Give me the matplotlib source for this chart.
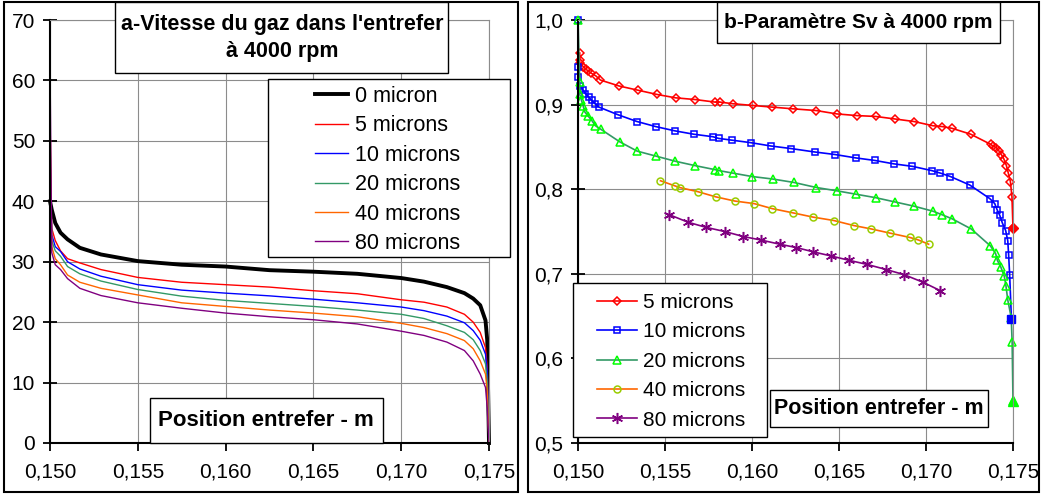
import matplotlib.pyplot as plt
from matplotlib.patches import Rectangle
from matplotlib.ticker import FuncFormatter

plt.rcParams['font.family'] = ['Liberation Sans', 'DejaVu Sans']

# --- a: gas velocity in the gap ---
pos_a = [0.150, 0.1501, 0.1503, 0.1506, 0.1510, 0.1517, 0.1529, 0.155, 0.1575, 0.160,
         0.1625, 0.165, 0.1675, 0.170, 0.1713, 0.1726, 0.1736, 0.1741, 0.1745, 0.1748,
         0.1749, 0.175]
v_0 = [40, 38.6, 36.4, 34.8, 33.7, 32.3, 31.2, 30.1, 29.5, 29.2, 28.6, 28.35, 28.0, 27.3,
       26.7, 25.8, 24.8, 23.9, 22.8, 20.3, 17.0, 0]
v_5 = [45, 35.5, 33.5, 31.8, 30.5, 29.8, 28.7, 27.4, 26.6, 26.2, 25.8, 25.2, 24.7, 23.7,
       23.3, 22.5, 21.3, 20.0, 18.3, 15.8, 12.5, 0]
v_10 = [48, 34.5, 32.5, 31.7, 30.0, 28.8, 27.6, 26.2, 25.3, 24.8, 24.35, 23.8, 23.2, 22.5,
        21.9, 21.0, 19.9, 18.6, 17.0, 14.7, 11.9, 0]
v_20 = [52, 33.5, 31.8, 30.9, 29.2, 28.0, 26.8, 25.4, 24.3, 23.6, 23.1, 22.6, 22.0, 21.3,
        20.6, 19.4, 18.3, 17.1, 15.3, 13.1, 10.3, 0]
v_40 = [55, 32.5, 30.5, 29.5, 27.8, 26.6, 25.6, 24.5, 23.2, 22.6, 22.0, 21.5, 20.9, 19.8,
        19.1, 18.1, 16.95, 15.6, 13.6, 11.4, 8.6, 0]
v_80 = [63, 31.5, 29.5, 28.7, 27.2, 25.6, 24.4, 23.2, 22.3, 21.5, 20.9, 20.4, 19.7, 18.5,
        17.8, 16.7, 15.3, 13.6, 11.4, 9.2, 5.8, 0]
labels_a = ['0 micron', '5 microns', '10 microns', '20 microns', '40 microns', '80 microns']

# --- b: Sv parameter ---
x_5 = [0.1501, 0.1501, 0.1501, 0.1503, 0.15044, 0.15057, 0.15077, 0.15102, 0.15129, 0.15236,
       0.15345, 0.15454, 0.15561, 0.15672, 0.15786, 0.15814, 0.15891, 0.16004, 0.16117, 0.16236,
       0.16368, 0.16487, 0.16604, 0.16711, 0.16822, 0.16931, 0.17040, 0.17094, 0.17149, 0.17257,
       0.17372, 0.17385, 0.17405, 0.17420, 0.17433, 0.17447, 0.17462, 0.17473, 0.17485, 0.17494,
       0.1750]
sv_5 = [0.961, 0.953, 0.949, 0.945, 0.942, 0.940, 0.937, 0.934, 0.929, 0.922,
        0.917, 0.912, 0.908, 0.906, 0.903, 0.903, 0.901, 0.899, 0.897, 0.895,
        0.893, 0.889, 0.887, 0.886, 0.883, 0.880, 0.875, 0.874, 0.872, 0.865,
        0.853, 0.851, 0.849, 0.845, 0.841, 0.836, 0.828, 0.819, 0.809, 0.791,
        0.754]
x_10 = [0.1500, 0.1500, 0.1500, 0.1501, 0.1503, 0.15042, 0.15061, 0.15079, 0.15098, 0.15121,
        0.15230, 0.15339, 0.15447, 0.15556, 0.15665, 0.15776, 0.15809, 0.15883, 0.15993, 0.16111,
        0.16226, 0.16360, 0.16477, 0.16596, 0.16705, 0.16814, 0.16922, 0.17033, 0.17083, 0.17140,
        0.17251, 0.17366, 0.17395, 0.17408, 0.17424, 0.17439, 0.17458, 0.17470, 0.17475, 0.17481,
        0.17491]
sv_10 = [1.0, 0.945, 0.933, 0.922, 0.917, 0.913, 0.909, 0.905, 0.901, 0.897,
         0.888, 0.880, 0.874, 0.869, 0.865, 0.862, 0.860, 0.858, 0.855, 0.851,
         0.848, 0.844, 0.841, 0.837, 0.834, 0.830, 0.827, 0.822, 0.819, 0.815,
         0.805, 0.789, 0.783, 0.776, 0.769, 0.760, 0.751, 0.739, 0.722, 0.698,
         0.646]
x_20 = [0.1500, 0.1501, 0.1501, 0.1502, 0.1503, 0.1504, 0.1506, 0.1508, 0.1510, 0.1513,
        0.1524, 0.1534, 0.1545, 0.1556, 0.1567, 0.1579, 0.1581, 0.1589, 0.1600, 0.1612,
        0.1624, 0.1637, 0.1649, 0.1660, 0.1671, 0.1682, 0.1693, 0.1704, 0.1709, 0.1715,
        0.1726, 0.1737, 0.1740, 0.1741, 0.1743, 0.1745, 0.1746, 0.1747, 0.1749, 0.17495,
        0.1750]
sv_20 = [1.0, 0.927, 0.912, 0.905, 0.898, 0.891, 0.886, 0.881, 0.875, 0.871,
         0.856, 0.845, 0.839, 0.833, 0.828, 0.823, 0.822, 0.819, 0.815, 0.812,
         0.808, 0.802, 0.798, 0.794, 0.790, 0.785, 0.780, 0.774, 0.770, 0.765,
         0.753, 0.733, 0.724, 0.716, 0.708, 0.697, 0.685, 0.669, 0.648, 0.619,
         0.550]
x_40 = [0.15474, 0.15556, 0.15584, 0.15690, 0.15791, 0.15901, 0.16012, 0.16117, 0.16236,
        0.16351, 0.16470, 0.16586, 0.16686, 0.16795, 0.16906, 0.16956, 0.17015]
sv_40 = [0.810, 0.804, 0.802, 0.797, 0.791, 0.786, 0.783, 0.777, 0.772,
         0.767, 0.763, 0.757, 0.753, 0.748, 0.743, 0.740, 0.735]
x_80 = [0.15523, 0.15632, 0.15734, 0.15843, 0.15951, 0.16050, 0.16159, 0.16255, 0.16351,
        0.16456, 0.16557, 0.16663, 0.16772, 0.16874, 0.16983, 0.17083]
sv_80 = [0.770, 0.761, 0.755, 0.750, 0.744, 0.740, 0.735, 0.731, 0.726,
         0.721, 0.716, 0.711, 0.705, 0.699, 0.690, 0.680]

W, H = 1042, 495
fig = plt.figure(figsize=(W / 100, H / 100), dpi=100)


def box(x0, y0, x1, y1, lw=1.0, fill=True):
    # rectangle given in pixel coords, y from top
    fig.add_artist(Rectangle((x0 / W, 1 - y1 / H), (x1 - x0) / W, (y1 - y0) / H,
                             transform=fig.transFigure, facecolor='white', fill=fill,
                             edgecolor='black', linewidth=lw, zorder=5))


def label(x, y, s, size, **kw):
    fig.text(x / W, 1 - y / H, s, ha='center', va='center', fontsize=size,
             fontweight='bold', zorder=6, **kw)


# panel frames
box(4, 2, 518, 492, lw=1.5, fill=False)
box(528, 2, 1039, 492, lw=1.5, fill=False)

ax1 = fig.add_axes([50 / W, 1 - 443 / H, 439 / W, 423 / H])
ax2 = fig.add_axes([578 / W, 1 - 443 / H, 435 / W, 423 / H])


def comma(fmt):
    return FuncFormatter(lambda v, p: (fmt % v).replace('.', ','))


for ax in (ax1, ax2):
    ax.set_xlim(0.150, 0.175)
    ax.set_xticks([0.150, 0.155, 0.160, 0.165, 0.170, 0.175])
    ax.xaxis.set_major_formatter(comma('%.3f'))
    ax.grid(color='#8c8c8c', linewidth=0.8)
    ax.set_axisbelow(True)
    for s in ('top', 'right'):
        ax.spines[s].set_color('#8c8c8c')
        ax.spines[s].set_linewidth(0.8)
    for s in ('left', 'bottom'):
        ax.spines[s].set_linewidth(1.5)
    ax.tick_params(axis='y', direction='inout', length=9.5, width=1.3, labelsize=15, pad=6)
    ax.tick_params(axis='x', direction='out', length=6, width=1.3, labelsize=15, pad=8)

# left panel
ax1.set_ylim(0, 70)
ax1.set_yticks(range(0, 71, 10))
colors_a = ['black', '#ff0000', '#0000ff', '#339966', '#ff6600', '#800080']
widths_a = [2.8, 1, 1, 1, 1, 1]
lines_a = []
for vals, c, lw, lab in zip([v_0, v_5, v_10, v_20, v_40, v_80], colors_a, widths_a, labels_a):
    lines_a += ax1.plot(pos_a, vals, color=c, linewidth=lw, label=lab, clip_on=False)

box(268, 79, 510, 257)
leg1 = fig.legend(handles=lines_a, loc='upper left', bbox_to_anchor=(315 / W, 1 - 86 / H),
                  bbox_transform=fig.transFigure, borderaxespad=0, borderpad=0,
                  frameon=False, fontsize=15.5, handlelength=1.55, handletextpad=0.33,
                  labelspacing=0.39)
leg1.set_zorder(7)

box(115, 2, 448, 73)
label(282, 38, "a-Vitesse du gaz dans l'entrefer\nà 4000 rpm", 15.5, linespacing=1.4)
box(150, 398, 383, 443)
label(266, 421, 'Position entrefer - m', 16)

# right panel
ax2.set_ylim(0.5, 1.0)
ax2.set_yticks([0.5, 0.6, 0.7, 0.8, 0.9, 1.0])
ax2.yaxis.set_major_formatter(comma('%.1f'))
series_b = [
    (x_5, sv_5, '#ff0000', '#ff0000', 'D', 4.5, '5 microns'),
    (x_10, sv_10, '#0000ff', '#0000ff', 's', 4.5, '10 microns'),
    (x_20, sv_20, '#339966', '#00ff00', '^', 5.5, '20 microns'),
    (x_40, sv_40, '#ff6600', '#99cc00', 'o', 5, '40 microns'),
    (x_80, sv_80, '#800080', '#800080', (6, 2, 0), 8, '80 microns'),
]
lines_b = []
for xs, ys, lc, mc, m, ms, lab in series_b:
    lines_b += ax2.plot(xs, ys, color=lc, linewidth=1.2, marker=m, markersize=ms,
                        markerfacecolor='none', markeredgecolor=mc, markeredgewidth=1.1,
                        label=lab, clip_on=False)
for xs, ys, lc, mc, m, ms, lab in series_b[:3]:
    ax2.plot(xs[-1], ys[-1], linestyle='none', marker=m, markersize=ms + 1,
             color=mc, clip_on=False)

box(573, 283, 767, 437)
leg2 = fig.legend(handles=lines_b, loc='upper left', bbox_to_anchor=(597 / W, 1 - 293 / H),
                  bbox_transform=fig.transFigure, borderaxespad=0, borderpad=0,
                  frameon=False, fontsize=15, handlelength=1.9, handletextpad=0.33,
                  labelspacing=0.5)
leg2.set_zorder(7)

box(717, 2, 1000, 43)
label(858, 23, 'b-Paramètre Sv à 4000 rpm', 15)
box(770, 390, 988, 427)
label(879, 409, 'Position entrefer - m', 15.5)

fig.savefig('out.png', dpi=100)
